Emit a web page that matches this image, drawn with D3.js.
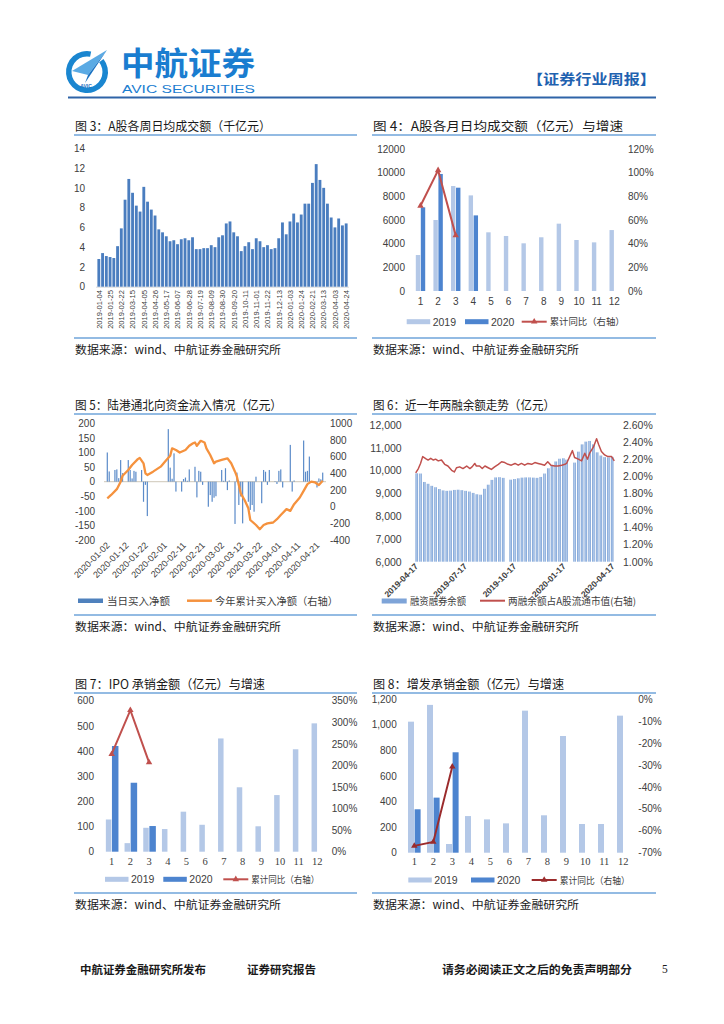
<!DOCTYPE html>
<html>
<head>
<meta charset="utf-8">
<script src="https://cdn.jsdelivr.net/npm/d3@7"></script>
<style>
  body { margin: 0; background: #fff; }
</style>
</head>
<body>
<svg id="page" width="724" height="1024"></svg>
<script>
// ---- 图3 A股各周日均成交额（千亿元）
const weekDates = ["2019-01-04","2019-01-11","2019-01-18","2019-01-25","2019-02-01","2019-02-15","2019-02-22","2019-03-01","2019-03-08","2019-03-15","2019-03-22","2019-03-29","2019-04-05","2019-04-12","2019-04-19","2019-04-26","2019-05-03","2019-05-10","2019-05-17","2019-05-24","2019-05-31","2019-06-07","2019-06-14","2019-06-21","2019-06-28","2019-07-05","2019-07-12","2019-07-19","2019-07-26","2019-08-02","2019-08-09","2019-08-16","2019-08-23","2019-08-30","2019-09-06","2019-09-13","2019-09-20","2019-09-27","2019-10-04","2019-10-11","2019-10-18","2019-10-25","2019-11-01","2019-11-08","2019-11-15","2019-11-22","2019-11-29","2019-12-06","2019-12-13","2019-12-20","2019-12-27","2020-01-03","2020-01-10","2020-01-17","2020-01-24","2020-02-07","2020-02-14","2020-02-21","2020-02-28","2020-03-06","2020-03-13","2020-03-20","2020-03-27","2020-04-03","2020-04-10","2020-04-17","2020-04-24"];
const weekTurnover = [2.8,3.4,3.1,3.0,2.9,4.1,5.9,8.8,10.9,9.5,8.2,7.6,10.1,8.6,7.8,7.2,5.8,5.5,5.1,4.6,4.7,4.3,4.8,4.9,4.7,5.0,3.8,3.8,3.9,3.9,4.2,4.0,5.0,5.2,6.4,6.6,5.5,5.1,3.6,4.1,4.5,3.8,4.9,4.6,4.0,4.2,3.8,3.9,4.9,6.5,5.3,6.6,7.4,6.5,7.3,8.4,8.4,10.5,12.4,10.8,10.0,8.4,7.0,6.0,6.9,6.2,6.4];

// ---- 月度图共用
const months = ["1","2","3","4","5","6","7","8","9","10","11","12"];

// ---- 图4 A股各月日均成交额（亿元）与增速
const turnover2019 = [3040,6000,8870,8080,4960,4650,4030,4540,5690,4310,4110,5150];
const turnover2020 = [7070,9890,8730,6390];
const turnoverYoY = [72,102,47];

// ---- 图5 陆港通北向资金（亿元）
const northDates = ["2020-01-02","2020-01-03","2020-01-06","2020-01-07","2020-01-08","2020-01-09","2020-01-10","2020-01-13","2020-01-14","2020-01-15","2020-01-16","2020-01-17","2020-01-20","2020-01-21","2020-01-22","2020-01-23",
  "2020-02-03","2020-02-04","2020-02-05","2020-02-06","2020-02-07","2020-02-10","2020-02-11","2020-02-12","2020-02-13","2020-02-14","2020-02-17","2020-02-18","2020-02-19","2020-02-20","2020-02-21","2020-02-24","2020-02-25","2020-02-26","2020-02-27","2020-02-28",
  "2020-03-02","2020-03-03","2020-03-04","2020-03-05","2020-03-06","2020-03-09","2020-03-10","2020-03-11","2020-03-12","2020-03-13","2020-03-16","2020-03-17","2020-03-18","2020-03-19","2020-03-20","2020-03-23","2020-03-24","2020-03-25","2020-03-26","2020-03-27","2020-03-30","2020-03-31",
  "2020-04-01","2020-04-02","2020-04-03","2020-04-07","2020-04-08","2020-04-09","2020-04-14","2020-04-15","2020-04-16","2020-04-17","2020-04-20","2020-04-21","2020-04-22","2020-04-23","2020-04-24"];
const northDaily = [100,35,40,42,12,74,29,74,40,11,37,34,40,-69,-11,-118,
  180,48,10,97,-34,-34,9,14,3,42,51,-54,37,34,-11,-86,-46,-69,-55,-50,
  40,3,46,-29,4,-145,31,-80,-51,-143,-69,-97,-80,-103,17,-74,40,34,-11,40,2,-8,
  37,42,-20,126,-34,4,141,34,37,86,-3,-20,11,8,31];
const northCumDates = ["2020-01-02","2020-01-04","2020-01-07","2020-01-09","2020-01-10","2020-01-13","2020-01-15","2020-01-18","2020-01-19","2020-01-21","2020-01-22","2020-01-23","2020-01-26","2020-01-30","2020-02-02","2020-02-04","2020-02-05","2020-02-07","2020-02-09","2020-02-12","2020-02-14","2020-02-16","2020-02-17","2020-02-18","2020-02-20","2020-02-22","2020-02-23","2020-02-25","2020-02-27","2020-02-28","2020-03-02","2020-03-05","2020-03-07","2020-03-09","2020-03-10","2020-03-12","2020-03-14","2020-03-16","2020-03-17","2020-03-20","2020-03-22","2020-03-24","2020-03-26","2020-03-29","2020-03-31","2020-04-02","2020-04-05","2020-04-07","2020-04-09","2020-04-12","2020-04-14","2020-04-16","2020-04-18","2020-04-20","2020-04-22","2020-04-24"];
const northCum = [100,140,210,300,370,440,500,570,585,520,400,380,420,480,560,610,700,680,650,680,730,760,770,730,790,770,700,620,520,540,560,580,520,420,360,160,80,-20,-160,-220,-270,-220,-200,-190,-150,-100,-30,-50,30,110,190,270,300,290,260,310];
const northTicks = ["2020-01-02","2020-01-12","2020-01-22","2020-02-01","2020-02-11","2020-02-21","2020-03-02","2020-03-12","2020-03-22","2020-04-01","2020-04-11","2020-04-21"];

// ---- 图6 两融余额（亿元）与占流通市值比
const marginDates = ["2019-04-19","2019-04-26","2019-05-03","2019-05-10","2019-05-17","2019-05-24","2019-05-31","2019-06-07","2019-06-14","2019-06-21","2019-06-28","2019-07-05","2019-07-12","2019-07-19","2019-07-26","2019-08-02","2019-08-09","2019-08-16","2019-08-23","2019-08-30","2019-09-06","2019-09-13","2019-09-20","2019-09-27","2019-10-11","2019-10-18","2019-10-25","2019-11-01","2019-11-08","2019-11-15","2019-11-22","2019-11-29","2019-12-06","2019-12-13","2019-12-20","2019-12-27","2020-01-03","2020-01-10","2020-01-17","2020-01-23","2020-02-07","2020-02-14","2020-02-21","2020-02-28","2020-03-06","2020-03-13","2020-03-20","2020-03-27","2020-04-03","2020-04-10","2020-04-17"];
const marginBal = [9880,9870,9500,9420,9330,9270,9190,9130,9110,9120,9150,9160,9140,9110,9080,9020,8960,8940,9200,9380,9590,9700,9710,9680,9600,9630,9660,9690,9700,9700,9690,9680,9720,9870,10100,10230,10400,10520,10540,10480,10350,10830,11150,11270,11300,11150,10800,10660,10590,10580,10600];
const ratioDates = ["2019-04-17","2019-04-22","2019-04-26","2019-04-30","2019-05-07","2019-05-10","2019-05-15","2019-05-20","2019-05-24","2019-05-29","2019-06-04","2019-06-10","2019-06-16","2019-06-23","2019-06-28","2019-07-02","2019-07-08","2019-07-14","2019-07-21","2019-07-27","2019-07-31","2019-08-05","2019-08-08","2019-08-14","2019-08-19","2019-08-24","2019-08-30","2019-09-05","2019-09-11","2019-09-18","2019-09-24","2019-09-30","2019-10-06","2019-10-12","2019-10-19","2019-10-25","2019-10-31","2019-11-06","2019-11-12","2019-11-19","2019-11-25","2019-12-01","2019-12-07","2019-12-13","2019-12-19","2019-12-25","2020-01-01","2020-01-07","2020-01-14","2020-01-20","2020-01-23","2020-02-03","2020-02-07","2020-02-14","2020-02-20","2020-02-26","2020-03-02","2020-03-06","2020-03-13","2020-03-19","2020-03-23","2020-03-28","2020-04-03","2020-04-09","2020-04-16","2020-04-21"];
const ratioVals = [2.04,2.09,2.15,2.23,2.20,2.19,2.21,2.19,2.20,2.18,2.19,2.14,2.12,2.07,2.05,2.10,2.11,2.09,2.12,2.09,2.11,2.15,2.12,2.12,2.09,2.12,2.10,2.08,2.11,2.14,2.17,2.16,2.14,2.13,2.15,2.13,2.15,2.13,2.15,2.14,2.16,2.15,2.14,2.13,2.17,2.13,2.12,2.12,2.13,2.14,2.15,2.30,2.22,2.20,2.18,2.27,2.20,2.27,2.34,2.44,2.37,2.29,2.25,2.23,2.23,2.18];
const marginTicks = ["2019-04-17","2019-07-17","2019-10-17","2020-01-17","2020-04-17"];

// ---- 图7 IPO承销金额（亿元）与增速
const ipo2019 = [128,34,95,90,159,107,450,256,101,225,407,510];
const ipo2020 = [420,274,102];
const ipoYoY = [226,328,207];

// ---- 图8 增发承销金额（亿元）与增速
const seo2019 = [1023,1154,68,286,260,229,1109,292,911,224,224,1070];
const seo2020 = [339,430,784];
const seoYoY = [-66.9,-65.1,-30.8];

const CJK = "'Noto Sans CJK SC', sans-serif";
const SANS = "'Liberation Sans', Arial, sans-serif";
const SERIF = "'Liberation Serif', 'Times New Roman', serif";
const C2019 = "#b4c8e7";
const C2020 = "#4d84cf";
const RULE = "#6fa5da";

const svg = d3.select("#page");
const parse = d3.timeParse("%Y-%m-%d");

const txt = (x, y, s, size, o = {}) =>
  svg.append("text")
    .attr("x", x)
    .attr("y", y)
    .attr("font-size", size)
    .attr("font-family", o.family || CJK)
    .attr("font-weight", o.weight || null)
    .attr("text-anchor", o.anchor || null)
    .attr("fill", o.fill || "#1a1a1a")
    .call(t => o.len && t.attr("textLength", o.len).attr("lengthAdjust", "spacingAndGlyphs"))
    .text(s);

const axisText = (g, size, family) => {
  g.select(".domain").remove();
  g.selectAll(".tick line").remove();
  g.attr("font-family", family || SANS).attr("font-size", size);
  g.selectAll("text").attr("fill", "#404040");
};

const panel = (x0, x1, base, bottom, title, len) => {
  txt(x0 + 1, base, title, 12.5, { len });
  [base + 4, bottom].forEach(y =>
    svg.append("line")
      .attr("x1", x0).attr("x2", x1)
      .attr("y1", y).attr("y2", y)
      .attr("stroke", RULE).attr("stroke-width", 1.6));
  txt(x0 + 1, bottom + 15.5, "数据来源：wind、中航证券金融研究所", 11.5, { len: 206 });
};

// ---------------- header / footer
const logo = svg.append("g").attr("transform", "translate(87,72)");
logo.append("path")
  .attr("d", d3.arc()({ innerRadius: 15.5, outerRadius: 21, startAngle: 0.9, endAngle: 2 * Math.PI + 0.2 }))
  .attr("fill", "#1a86d0");
logo.append("polygon").attr("points", "-15,-1 20,-22 1,3").attr("fill", "#5aaae4");
logo.append("polygon").attr("points", "1,3 20,-22 -2,11").attr("fill", "#1a72c2");
logo.append("text").attr("x", -1).attr("y", 16).attr("text-anchor", "middle")
  .attr("font-size", 5).attr("font-weight", "bold").attr("font-family", SANS)
  .attr("fill", "#1a72c2").text("AVIC");

txt(121, 75, "中航证券", 32, { weight: "bold", fill: "#1a7dd0", len: 134 });
txt(122, 93, "AVIC SECURITIES", 10, { family: SANS, fill: "#1a7dd0", len: 133 });
txt(527, 84, "【证券行业周报】", 14, { weight: "bold", fill: "#1f62b0", len: 129 });
svg.append("line").attr("x1", 68).attr("x2", 656).attr("y1", 97.5).attr("y2", 97.5)
  .attr("stroke", "#2f64a8").attr("stroke-width", 2);

txt(80, 974, "中航证券金融研究所发布", 11.5, { weight: "bold", len: 126 });
txt(247, 974, "证券研究报告", 11.5, { weight: "bold", len: 69 });
txt(442, 974, "请务必阅读正文之后的免责声明部分", 11.5, { weight: "bold", len: 190 });
txt(662, 973, "5", 11.5, { family: SERIF });

// ---------------- 图3
panel(74, 357, 131, 338, "图 3：A股各周日均成交额（千亿元）", 196);
{
  const x = d3.scaleBand().domain(weekDates).range([97.4, 347.6]).paddingInner(0.24);
  const y = d3.scaleLinear().domain([0, 14]).range([286.7, 148.3]);
  svg.append("g").attr("transform", "translate(85,0)")
    .call(d3.axisLeft(y).tickValues(d3.range(0, 15, 2)).tickSize(0).tickPadding(0))
    .call(axisText, 10);
  svg.append("line").attr("x1", 96).attr("x2", 349).attr("y1", y(0) + 0.5).attr("y2", y(0) + 0.5)
    .attr("stroke", "#d9d9d9");
  svg.append("g").selectAll("rect").data(weekTurnover).join("rect")
    .attr("x", (d, i) => x(weekDates[i]))
    .attr("y", d => y(d))
    .attr("width", x.bandwidth())
    .attr("height", d => y(0) - y(d))
    .attr("fill", "#4a7dbf");
  svg.append("g").selectAll("text").data(weekDates.filter((d, i) => i % 3 === 0)).join("text")
    .attr("transform", d => `translate(${x(d) + x.bandwidth() / 2 + 2.8},290) rotate(-90)`)
    .attr("text-anchor", "end")
    .attr("font-size", 7.6)
    .attr("font-family", SANS)
    .attr("fill", "#404040")
    .text(d => d);
}

// ---------------- 月度组合图
const drawMonthly = o => {
  const x = d3.scaleBand().domain(months).range([o.x0, o.x1]);
  const cx = i => x(months[i]) + x.bandwidth() / 2;
  const yL = d3.scaleLinear().domain(o.lDomain).range([o.y0, o.y1]);
  const yR = d3.scaleLinear().domain(o.rDomain).range([o.y0, o.y1]);

  svg.append("g").attr("transform", `translate(${o.lx},0)`)
    .call(d3.axisLeft(yL).tickValues(d3.range(o.lDomain[0], o.lDomain[1] + 1, o.lStep))
      .tickFormat(o.lFmt).tickSize(0).tickPadding(0))
    .call(axisText, 10);
  svg.append("g").attr("transform", `translate(${o.rx},0)`)
    .call(d3.axisRight(yR).tickValues(d3.range(o.rDomain[0], o.rDomain[1] + 0.01, o.rStep))
      .tickFormat(d => Math.round(d) + "%").tickSize(0).tickPadding(0))
    .call(axisText, 10);
  svg.append("g").attr("transform", `translate(0,${o.xy})`)
    .call(d3.axisBottom(x).tickSize(0).tickPadding(0))
    .call(axisText, o.xSize, o.xFamily);

  svg.append("g").selectAll("rect").data(o.a).join("rect")
    .attr("x", (d, i) => cx(i) - o.w1 - 0.3)
    .attr("y", d => yL(d))
    .attr("width", o.w1)
    .attr("height", d => yL(0) - yL(d))
    .attr("fill", C2019);
  svg.append("g").selectAll("rect").data(o.b).join("rect")
    .attr("x", (d, i) => cx(i) + 0.3)
    .attr("y", d => yL(d))
    .attr("width", o.w2)
    .attr("height", d => yL(0) - yL(d))
    .attr("fill", C2020);

  const pts = o.c.map((d, i) => [cx(i), yR(d)]);
  svg.append("path").datum(pts)
    .attr("d", d3.line())
    .attr("fill", "none")
    .attr("stroke", o.lc)
    .attr("stroke-width", 2);
  svg.append("g").selectAll("path").data(pts).join("path")
    .attr("transform", d => `translate(${d})`)
    .attr("d", d3.symbol(d3.symbolTriangle, 18))
    .attr("fill", o.lc);

  const [b1, b2, l3] = o.leg;
  svg.append("rect").attr("x", b1).attr("y", o.ly - 2.5).attr("width", 23.5).attr("height", 5).attr("fill", C2019);
  txt(b1 + 26, o.ly + 4, "2019", 10.5, { family: SANS, fill: "#404040" });
  svg.append("rect").attr("x", b2).attr("y", o.ly - 2.5).attr("width", 23.5).attr("height", 5).attr("fill", C2020);
  txt(b2 + 26, o.ly + 4, "2020", 10.5, { family: SANS, fill: "#404040" });
  svg.append("line").attr("x1", l3).attr("x2", l3 + 25).attr("y1", o.ly).attr("y2", o.ly)
    .attr("stroke", o.lc).attr("stroke-width", 2);
  svg.append("path").attr("transform", `translate(${l3 + 12.5},${o.ly})`)
    .attr("d", d3.symbol(d3.symbolTriangle, 18)).attr("fill", o.lc);
  txt(l3 + 28, o.ly + 3.5, "累计同比（右轴）", 9.5, { fill: "#404040", len: o.legLen });
};

// ---------------- 图4
panel(372, 656, 131, 338, "图 4：A股各月日均成交额（亿元）与增速", 250);
drawMonthly({
  x0: 411.7, x1: 623, y0: 291, y1: 149, lx: 405, rx: 628,
  lDomain: [0, 12000], lStep: 2000, lFmt: d3.format("d"),
  rDomain: [0, 120], rStep: 20,
  xy: 297.5, xSize: 10, xFamily: SANS,
  a: turnover2019, b: turnover2020, c: turnoverYoY, w1: 4.4, w2: 4.4,
  lc: "#c0504d", ly: 321.7, leg: [406.7, 465, 521.7], legLen: 75
});

// ---------------- 图5
panel(74, 357, 410, 615, "图 5：陆港通北向资金流入情况（亿元）", 207);
{
  const x = d3.scaleTime().domain([parse("2020-01-02"), parse("2020-04-24")]).range([107.3, 322.7]);
  const yL = d3.scaleLinear().domain([-200, 200]).range([540, 423.3]);
  const yR = d3.scaleLinear().domain([-400, 1000]).range([540, 423.3]);
  svg.append("g").attr("transform", "translate(95,0)")
    .call(d3.axisLeft(yL).tickValues(d3.range(-200, 201, 50)).tickFormat(d => String(d)).tickSize(0).tickPadding(0))
    .call(axisText, 10);
  svg.append("g").attr("transform", "translate(330,0)")
    .call(d3.axisRight(yR).tickValues(d3.range(-400, 1001, 200)).tickFormat(d => String(d)).tickSize(0).tickPadding(0))
    .call(axisText, 10);
  svg.append("line").attr("x1", 104).attr("x2", 326).attr("y1", yL(0)).attr("y2", yL(0))
    .attr("stroke", "#d8d2c6").attr("stroke-width", 1.2);
  svg.append("g").selectAll("rect").data(northDaily).join("rect")
    .attr("x", (d, i) => x(parse(northDates[i])) - 0.6)
    .attr("y", d => yL(Math.max(d, 0)))
    .attr("width", 1.2)
    .attr("height", d => Math.abs(yL(d) - yL(0)))
    .attr("fill", "#5b8bc9");
  svg.append("path").datum(northCum)
    .attr("d", d3.line().x((d, i) => x(parse(northCumDates[i]))).y(d => yR(d)))
    .attr("fill", "none")
    .attr("stroke", "#f5923e")
    .attr("stroke-width", 2.3)
    .attr("stroke-linejoin", "round");
  svg.append("g").selectAll("text").data(northTicks).join("text")
    .attr("transform", d => `translate(${x(parse(d)) + 3},546) rotate(-45)`)
    .attr("text-anchor", "end")
    .attr("font-size", 9)
    .attr("font-family", SANS)
    .attr("fill", "#404040")
    .text(d => d);
  svg.append("rect").attr("x", 78).attr("y", 598.5).attr("width", 25).attr("height", 4.5).attr("fill", "#4f81bd");
  txt(107, 604.5, "当日买入净额", 10.5, { fill: "#404040", len: 63 });
  svg.append("line").attr("x1", 187).attr("x2", 212).attr("y1", 600.7).attr("y2", 600.7)
    .attr("stroke", "#f5923e").attr("stroke-width", 2.5);
  txt(215, 604.5, "今年累计买入净额（右轴）", 10.3, { fill: "#404040", len: 123 });
}

// ---------------- 图6
panel(372, 656, 410, 615, "图 6：近一年两融余额走势（亿元）", 182);
{
  const defs = svg.append("defs");
  const grad = defs.append("linearGradient").attr("id", "g6");
  grad.append("stop").attr("offset", "0%").attr("stop-color", "#6f98d0");
  grad.append("stop").attr("offset", "50%").attr("stop-color", "#b3cbec");
  grad.append("stop").attr("offset", "100%").attr("stop-color", "#6f98d0");

  const x = d3.scaleTime().domain([parse("2019-04-17"), parse("2020-04-21")]).range([415.7, 614.3]);
  const yL = d3.scaleLinear().domain([6000, 12000]).range([561.7, 425]);
  const yR = d3.scaleLinear().domain([1.0, 2.6]).range([561.7, 425]);
  svg.append("g").attr("transform", "translate(401.7,0)")
    .call(d3.axisLeft(yL).tickValues(d3.range(6000, 12001, 1000)).tickFormat(d3.format(",")).tickSize(0).tickPadding(0))
    .call(axisText, 10.5);
  svg.append("g").attr("transform", "translate(623,0)")
    .call(d3.axisRight(yR).tickValues(d3.range(1.0, 2.61, 0.2)).tickFormat(d => d.toFixed(2) + "%").tickSize(0).tickPadding(0))
    .call(axisText, 10.5);
  svg.append("g").selectAll("rect").data(marginBal).join("rect")
    .attr("x", (d, i) => x(parse(marginDates[i])) - 1.3)
    .attr("y", d => yL(d))
    .attr("width", 2.6)
    .attr("height", d => yL(6000) - yL(d))
    .attr("fill", "url(#g6)");
  svg.append("path").datum(ratioVals)
    .attr("d", d3.line().x((d, i) => x(parse(ratioDates[i]))).y(d => yR(d)))
    .attr("fill", "none")
    .attr("stroke", "#c0504d")
    .attr("stroke-width", 1.5)
    .attr("stroke-linejoin", "round");
  svg.append("g").selectAll("text").data(marginTicks).join("text")
    .attr("transform", d => `translate(${x(parse(d)) + 3},567) rotate(-45)`)
    .attr("text-anchor", "end")
    .attr("font-size", 8.5)
    .attr("font-weight", "bold")
    .attr("font-family", SANS)
    .attr("fill", "#404040")
    .text(d => d);
  svg.append("rect").attr("x", 381.7).attr("y", 598.5).attr("width", 25).attr("height", 5).attr("fill", "#7ea4d8");
  txt(410, 604.5, "融资融券余额", 9.8, { fill: "#404040", len: 56 });
  svg.append("line").attr("x1", 480).attr("x2", 505).attr("y1", 600.7).attr("y2", 600.7)
    .attr("stroke", "#c0504d").attr("stroke-width", 2);
  txt(508, 604.5, "两融余额占A股流通市值(右轴)", 9.8, { fill: "#404040", len: 128 });
}

// ---------------- 图7
panel(74, 357, 689, 893, "图 7：IPO 承销金额（亿元）与增速", 190);
drawMonthly({
  x0: 102.3, x1: 326.7, y0: 851.7, y1: 700.7, lx: 94, rx: 331.7,
  lDomain: [0, 600], lStep: 100, lFmt: d3.format("d"),
  rDomain: [0, 350], rStep: 50,
  xy: 857.5, xSize: 10.5, xFamily: SERIF,
  a: ipo2019, b: ipo2020, c: ipoYoY, w1: 5.5, w2: 6.5,
  lc: "#c0504d", ly: 879.3, leg: [105, 163.3, 223.3], legLen: 68
});

// ---------------- 图8
panel(372, 656, 689, 893, "图 8：增发承销金额（亿元）与增速", 191);
drawMonthly({
  x0: 404.8, x1: 632.8, y0: 852.7, y1: 699, lx: 396.7, rx: 638.3,
  lDomain: [0, 1200], lStep: 200, lFmt: d3.format(","),
  rDomain: [-70, 0], rStep: 10,
  xy: 857.5, xSize: 10.5, xFamily: SERIF,
  a: seo2019, b: seo2020, c: seoYoY, w1: 6, w2: 6,
  lc: "#9b2b2c", ly: 880, leg: [408.3, 471, 531.7], legLen: 70
});
</script>
</body>
</html>
